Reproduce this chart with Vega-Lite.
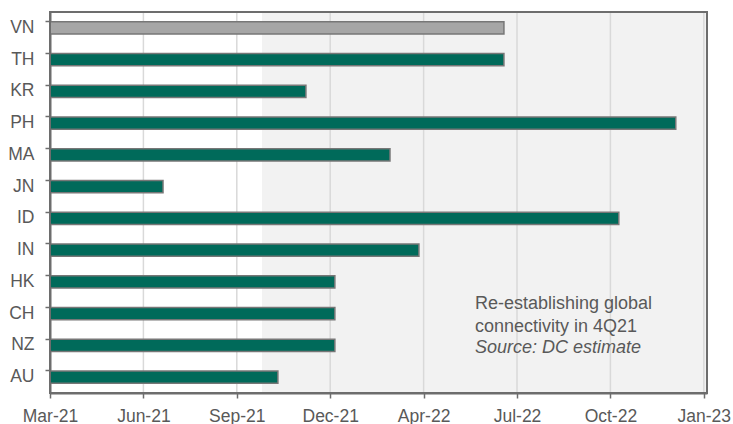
{
  "$schema": "https://vega.github.io/schema/vega-lite/v6.json",
  "width": 657,
  "height": 381,
  "autosize": "none",
  "padding": {"left": 50, "top": 12, "right": 26, "bottom": 31},
  "config": {
    "font": "Liberation Sans",
    "view": {"stroke": null},
    "axis": {"labelFont": "Liberation Sans", "labelColor": "#595959", "domainColor": "#6d6d6d", "tickColor": "#6d6d6d"}
  },
  "datasets": {
    "bars": [
      {"country": "VN", "group": "other", "start": "2021-03-01", "end": "2022-06-30"},
      {"country": "TH", "group": "main", "start": "2021-03-01", "end": "2022-06-30"},
      {"country": "KR", "group": "main", "start": "2021-03-01", "end": "2021-11-30"},
      {"country": "PH", "group": "main", "start": "2021-03-01", "end": "2022-12-31"},
      {"country": "MA", "group": "main", "start": "2021-03-01", "end": "2022-02-28"},
      {"country": "JN", "group": "main", "start": "2021-03-01", "end": "2021-06-30"},
      {"country": "ID", "group": "main", "start": "2021-03-01", "end": "2022-10-31"},
      {"country": "IN", "group": "main", "start": "2021-03-01", "end": "2022-03-31"},
      {"country": "HK", "group": "main", "start": "2021-03-01", "end": "2021-12-31"},
      {"country": "CH", "group": "main", "start": "2021-03-01", "end": "2021-12-31"},
      {"country": "NZ", "group": "main", "start": "2021-03-01", "end": "2021-12-31"},
      {"country": "AU", "group": "main", "start": "2021-03-01", "end": "2021-10-31"}
    ],
    "shade": [{"start": "2021-10-14", "end": "2023-02-02T10:00:00Z"}],
    "frame": [{"start": "2021-03-01", "end": "2023-02-02T10:00:00Z"}],
    "grid": [
      {"date": "2021-06-09"}, {"date": "2021-09-17"}, {"date": "2021-12-26"},
      {"date": "2022-04-05"}, {"date": "2022-07-14"}, {"date": "2022-10-22"}, {"date": "2023-01-30"}
    ],
    "note1": [{"country": "CH", "date": "2022-05-30", "note": "Re-establishing global\nconnectivity in 4Q21"}],
    "note2": [{"country": "NZ", "date": "2022-05-30", "note": "Source: DC estimate"}]
  },
  "encoding": {
    "x": {
      "type": "temporal",
      "scale": {
        "type": "utc",
        "nice": false,
        "domain": [
          {"year": 2021, "month": 3, "date": 1, "utc": true},
          {"year": 2023, "month": 2, "date": 2, "hours": 10, "utc": true}
        ]
      }
    }
  },
  "layer": [
    {
      "data": {"name": "shade"},
      "mark": {"type": "rect", "color": "#f2f2f2"},
      "encoding": {
        "x": {"field": "start", "type": "temporal"},
        "x2": {"field": "end"}
      }
    },
    {
      "data": {"name": "grid"},
      "mark": {"type": "rule", "color": "#d9d9d9", "strokeWidth": 1.5},
      "encoding": {
        "x": {"field": "date", "type": "temporal"}
      }
    },
    {
      "data": {"name": "bars"},
      "mark": {"type": "bar", "stroke": "#777777", "strokeWidth": 1.5},
      "encoding": {
        "y": {
          "field": "country",
          "type": "nominal",
          "sort": null,
          "scale": {"paddingInner": 0.61, "paddingOuter": 0.305},
          "axis": {
            "title": null,
            "bandPosition": 0,
            "domainWidth": 2,
            "tickSize": 5,
            "tickWidth": 1.5,
            "labelFontSize": 17.5,
            "labelPadding": 11,
            "grid": false
          }
        },
        "x": {
          "field": "start",
          "type": "temporal",
          "axis": {
            "title": null,
            "grid": false,
            "values": [
              {"year": 2021, "month": 3, "date": 1, "utc": true},
              {"year": 2021, "month": 6, "date": 9, "utc": true},
              {"year": 2021, "month": 9, "date": 17, "utc": true},
              {"year": 2021, "month": 12, "date": 26, "utc": true},
              {"year": 2022, "month": 4, "date": 5, "utc": true},
              {"year": 2022, "month": 7, "date": 14, "utc": true},
              {"year": 2022, "month": 10, "date": 22, "utc": true},
              {"year": 2023, "month": 1, "date": 30, "utc": true}
            ],
            "format": "%b-%y",
            "domainWidth": 2,
            "tickSize": 5,
            "tickWidth": 1.5,
            "labelFontSize": 17.5,
            "labelPadding": 9,
            "labelFlush": false,
            "labelOverlap": false
          }
        },
        "x2": {"field": "end"},
        "color": {
          "field": "group",
          "type": "nominal",
          "scale": {"domain": ["main", "other"], "range": ["#006a5a", "#a6a6a6"]},
          "legend": null
        }
      }
    },
    {
      "data": {"name": "note1"},
      "mark": {"type": "text", "align": "left", "baseline": "alphabetic", "fontSize": 18, "color": "#595959", "lineBreak": "\n", "lineHeight": 23, "dy": -4.6},
      "encoding": {
        "x": {"field": "date", "type": "temporal"},
        "y": {"field": "country", "type": "nominal", "sort": null},
        "text": {"field": "note"}
      }
    },
    {
      "data": {"name": "note2"},
      "mark": {"type": "text", "align": "left", "baseline": "alphabetic", "fontSize": 18, "fontStyle": "italic", "color": "#595959", "dy": 7.3},
      "encoding": {
        "x": {"field": "date", "type": "temporal"},
        "y": {"field": "country", "type": "nominal", "sort": null},
        "text": {"field": "note"}
      }
    },
    {
      "data": {"name": "frame"},
      "mark": {"type": "rect", "filled": false, "stroke": "#6d6d6d", "strokeWidth": 2},
      "encoding": {
        "x": {"field": "start", "type": "temporal"},
        "x2": {"field": "end"}
      }
    }
  ]
}
